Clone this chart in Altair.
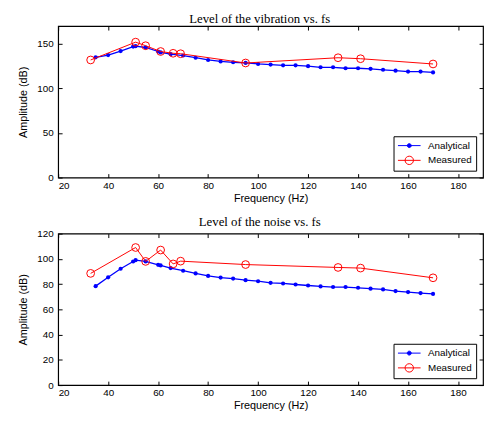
import altair as alt
import pandas as pd

# ---- data ----
freq_analytical = [35, 40, 45, 50, 51, 55, 60, 61, 65, 70, 75, 80, 85, 90, 95, 100,
                   105, 110, 115, 120, 125, 130, 135, 140, 145, 150, 155, 160, 165, 170]
vib_analytical = [135, 137.5, 142, 147, 147.5, 146, 141.5, 140.5, 138.5, 137, 134.5, 132,
                  130.4, 129.4, 128.7, 127.5, 126.8, 126, 126, 125, 123.8, 123.8, 122.7,
                  122.7, 122, 121, 120, 119, 119, 118]
noise_analytical = [78.4, 85.4, 92.2, 97.9, 99, 98, 95.3, 94.8, 92.7, 90.6, 88.5, 86.5,
                    85.2, 84.4, 83.1, 82.3, 81, 80.5, 79.7, 78.9, 78.2, 77.7, 77.7, 77.1,
                    76.4, 75.8, 74.5, 73.7, 72.9, 72.2]
freq_measured = [33, 51, 55, 61, 66, 69, 95, 132, 141, 170]
vib_measured = [132, 152, 148, 141.5, 139.5, 139, 128.6, 134.5, 133.4, 127.5]
noise_measured = [88.5, 109, 98, 107, 96, 98.2, 95.5, 93.2, 92.7, 85]

series_names = ["Analytical", "Measured"]
x_ticks = [20, 40, 60, 80, 100, 120, 140, 160, 180]
vib_ticks = [0, 50, 100, 150]
noise_ticks = [0, 20, 40, 60, 80, 100, 120]

BLUE = "#0000ff"
RED = "#ff0000"
W = 432
H = 154

# legend symbols: line segment + marker (custom SVG paths)
SYM_AN = ("M-1,0L3.6,0M0.9,0A0.4,0.4,0,1,0,1.7,0A0.4,0.4,0,1,0,0.9,0Z")
SYM_ME = ("M-1,0L3.6,0M0.45,0A0.85,0.85,0,1,0,2.15,0A0.85,0.85,0,1,0,0.45,0Z")


def panel(title, an_vals, me_vals, ymax, yticks):
    df = pd.concat([
        pd.DataFrame({"f": freq_analytical, "v": an_vals, "series": series_names[0]}),
        pd.DataFrame({"f": freq_measured, "v": me_vals, "series": series_names[1]}),
    ], ignore_index=True)
    xs = alt.Scale(domain=[20, 190], nice=False, zero=False)
    ys = alt.Scale(domain=[0, ymax], nice=False)
    base = alt.Chart(df)
    an = base.transform_filter(alt.datum.series == series_names[0])
    me = base.transform_filter(alt.datum.series == series_names[1])

    main_x = alt.X("f:Q", scale=xs, axis=alt.Axis(
        orient="bottom", values=x_ticks, ticks=False, tickSize=0, domain=False,
        grid=False, labelPadding=3, title="Frequency (Hz)", titlePadding=2))
    main_y = alt.Y("v:Q", scale=ys, axis=alt.Axis(
        orient="left", values=yticks, ticks=False, tickSize=0, domain=False,
        grid=False, labelPadding=5, title="Amplitude (dB)", titlePadding=9))
    nx = alt.X("f:Q", scale=xs, axis=None)
    ny = alt.Y("v:Q", scale=ys, axis=None)

    an_line = an.mark_line(color=BLUE, strokeWidth=1.3).encode(x=main_x, y=main_y)
    an_pts = an.mark_point(filled=True, color=BLUE, size=18, opacity=1).encode(x=nx, y=ny)
    me_line = me.mark_line(color=RED, strokeWidth=1).encode(x=nx, y=ny)
    me_pts = me.mark_point(filled=False, color=RED, size=62, strokeWidth=1, opacity=1).encode(x=nx, y=ny)

    tick_ax = dict(labels=False, ticks=True, tickSize=4, tickColor="black",
                   domain=False, grid=False, title=None)
    legend_layer = base.mark_point(opacity=0, size=100).encode(
        x=alt.X("f:Q", scale=xs, axis=alt.Axis(orient="top", offset=-H, values=x_ticks, **tick_ax)),
        y=alt.Y("v:Q", scale=ys, axis=alt.Axis(orient="right", offset=-W, values=yticks, **tick_ax)),
        color=alt.Color("series:N", scale=alt.Scale(domain=series_names, range=[BLUE, RED]),
                        legend=alt.Legend(
                            orient="bottom-right", title=None, offset=7,
                            strokeColor="black", fillColor="white", padding=4,
                            symbolSize=100, symbolStrokeWidth=1, symbolOpacity=1,
                            labelFontSize=10, labelFont="Liberation Sans", labelColor="black",
                            labelOffset=20, rowPadding=3,
                            labelExpr="datum.label + '      '")),
        fill=alt.Fill("series:N", scale=alt.Scale(domain=series_names, range=[BLUE, "transparent"]),
                      legend=alt.Legend(orient="bottom-right", title=None)),
        shape=alt.Shape("series:N", scale=alt.Scale(domain=series_names, range=[SYM_AN, SYM_ME]),
                        legend=alt.Legend(orient="bottom-right", title=None)),
    )
    tick_layer = base.mark_point(opacity=0).encode(
        x=alt.X("f:Q", scale=xs, axis=alt.Axis(orient="bottom", offset=-H, values=x_ticks, **tick_ax)),
        y=alt.Y("v:Q", scale=ys, axis=alt.Axis(orient="left", offset=-W, values=yticks, **tick_ax)),
    )

    return alt.layer(an_line, an_pts, me_line, me_pts, legend_layer, tick_layer).resolve_axis(
        x="independent", y="independent"
    ).properties(
        width=W, height=H,
        title=alt.TitleParams(title, font="Liberation Serif", fontSize=13, fontWeight="normal",
                              color="black", offset=0, dx=-11, anchor="middle"),
    )


top = panel("Level of the vibration vs. fs", vib_analytical, vib_measured, 170, vib_ticks)
bottom = panel("Level of the noise vs. fs", noise_analytical, noise_measured, 120, noise_ticks)

chart = alt.vconcat(top, bottom, spacing=11).resolve_scale(
    color="independent", fill="independent", shape="independent"
).resolve_legend(
    color="independent", fill="independent", shape="independent"
).properties(
    padding={"left": 8, "top": 0, "right": 0, "bottom": 0}
).configure_view(
    stroke="black", strokeWidth=1.2
).configure_axis(
    labelFont="Liberation Sans", labelFontSize=10, labelColor="black",
    titleFont="Liberation Sans", titleFontSize=11, titleFontWeight="normal", titleColor="black",
)

chart.save("out.html", embed_options={"renderer": "svg", "actions": False})
